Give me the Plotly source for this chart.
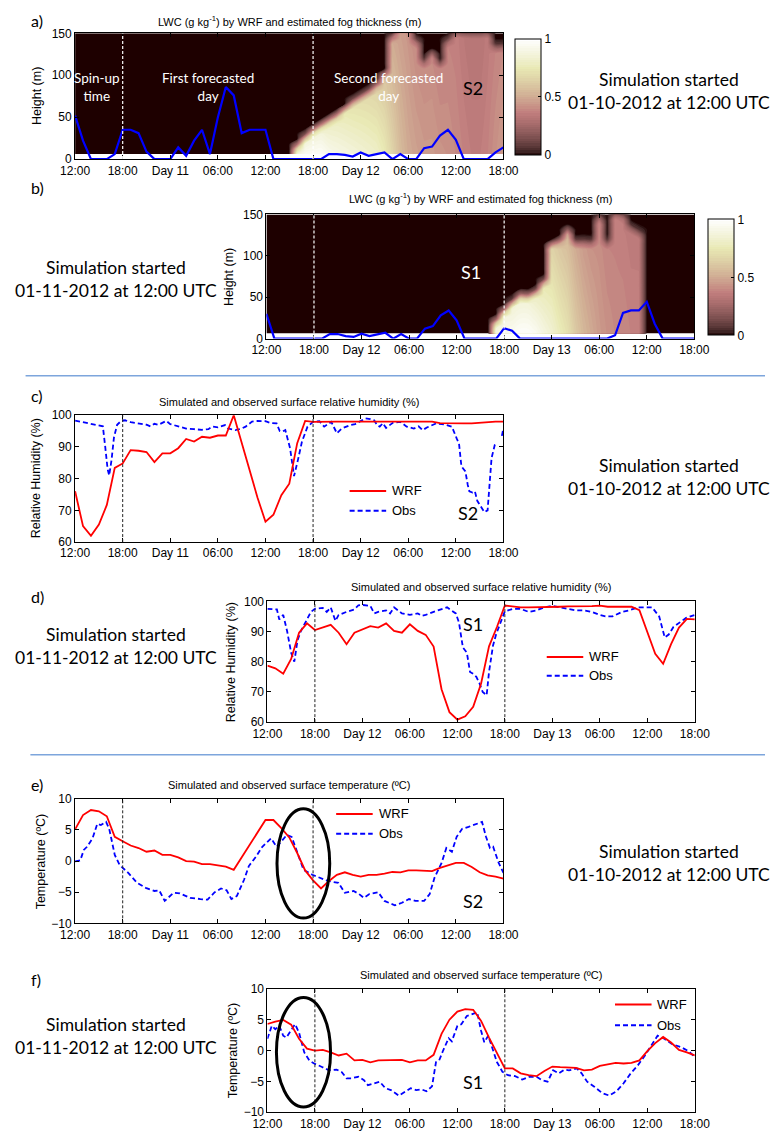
import numpy as np
import plotly.graph_objects as go

W, H = 780, 1141
def px(x): return x / W
def py(y): return 1 - y / H

# ---------------- data ----------------
hours = list(range(55))  # hours since 12:00 UTC of simulation start
tick_vals = [0, 6, 12, 18, 24, 30, 36, 42, 48, 54]
ticks_s2 = ["12:00", "18:00", "Day 11", "06:00", "12:00", "18:00", "Day 12", "06:00", "12:00", "18:00"]
ticks_s1 = ["12:00", "18:00", "Day 12", "06:00", "12:00", "18:00", "Day 13", "06:00", "12:00", "18:00"]

# estimated fog thickness (m), hourly
fog_obs_a = [52, 22, 0, 0, 0, 6, 35, 35, 31, 9, 0, 0, 0, 14, 4, 22, 35, 6, 50, 86, 76, 31, 35, 35, 35,
             0, 0, 0, 0, 0, 0, 0, 6, 6, 5, 3, 8, 4, 6, 8, 0, 6, 0, 0, 13, 15, 28, 35, 23, 0, 0, 0, 0, 8, 14]
fog_obs_b = [30, 0, 0, 0, 0, 0, 0, 0, 5.5, 5.5, 3, 2, 6, 3, 5, 7, 0, 5.5, 0, 0, 12, 15, 28, 34, 22,
             0, 0, 0, 0, 0, 12.5, 9.5, 0, 0, 0, 0, 0, 0, 0, 0, 0, 0, 0, 0, 4, 31, 34, 34, 44.5, 18, 0, 0, 0, 0, 0]

# WRF LWC field: fog-top height (m), LWC near surface and near fog top (g/kg), hourly
lwc_top_a = [0] * 28 + [10, 20, 28, 34, 40, 46, 54, 62, 68, 74, 82, 95, 140, 150, 150, 135, 110, 120, 108,
                        135, 144, 144, 144, 144, 144, 128, 128]
lwc_low_a = [0] * 28 + [0.95, 1.0, 1.0, 1.0, 0.95, 0.92, 0.9, 0.88, 0.86, 0.84, 0.82, 0.76, 0.66, 0.56, 0.5,
                        0.47, 0.45, 0.45, 0.43, 0.42, 0.4, 0.38, 0.36, 0.36, 0.38, 0.42, 0.45]
lwc_up_a = [0] * 28 + [0.8, 0.85, 0.85, 0.85, 0.8, 0.78, 0.75, 0.72, 0.7, 0.68, 0.65, 0.6, 0.5, 0.46, 0.43,
                       0.4, 0.4, 0.4, 0.38, 0.38, 0.37, 0.34, 0.32, 0.32, 0.35, 0.38, 0.4]
lwc_top_b = [0] * 29 + [15, 27, 37, 45, 45, 50, 62, 108, 112, 124, 110, 110, 110, 140, 110, 144, 142, 128, 122] + [0] * 7
lwc_low_b = [0] * 29 + [0.9, 0.95, 0.97, 1.0, 1.0, 0.97, 0.9, 0.85, 0.78, 0.72, 0.62, 0.55, 0.5, 0.45, 0.42,
                        0.4, 0.4, 0.38, 0.38] + [0] * 7
lwc_up_b = [0] * 29 + [0.85, 0.88, 0.85, 0.85, 0.85, 0.8, 0.75, 0.65, 0.6, 0.55, 0.5, 0.45, 0.42, 0.4, 0.38,
                       0.37, 0.36, 0.35, 0.35] + [0] * 7
model_heights = list(range(6, 151, 6))

# relative humidity (%)
rh_wrf_c = [76, 65, 62, 65.5, 71.7, 83.4, 84.8, 89, 88.8, 88.4, 85.2, 88, 88, 89.6, 92.5, 91.7, 93.2, 92.9,
            93.6, 93.6, 100, 91.2, 82.3, 74, 66.4, 68.6, 74.8, 78.4, 91.2, 98.2, 97.9, 98, 98, 98, 98, 98, 98,
            98, 98, 98, 98, 98, 98, 98, 98, 98, 97.5, 97.4, 97.4, 97.4, 97.4, 97.6, 97.9, 98, 98]
rh_obs_c_t = [0, 1, 2, 3, 3.5, 3.8, 4.1, 4.3, 4.6, 4.9, 5.3, 5.8, 6.3, 7, 8, 9, 9.5, 10, 10.5, 11, 11.5, 12, 13,
              14, 15, 16, 16.8, 17.3, 18, 18.9, 19.3, 20.2, 21, 21.5, 22.3, 23, 24, 24.7, 25.4, 25.8, 26.1, 26.5,
              27.1, 27.6, 28.1, 28.6, 29.3, 30, 30.8, 31.4, 32.3, 33, 33.6, 34.7, 35.3, 35.8, 36.6, 37.2, 37.7,
              38.1, 38.4, 38.8, 39.2, 40.1, 41, 41.8, 42.7, 43.3, 43.8, 44.4, 45.5, 46.6, 47.5, 48.1, 48.4, 48.7,
              49.2, 49.5, 49.7, 50.1, 50.4, 50.7, 51.2, 51.6, 52, 52.5, 52.9, 53.3, 53.5, 53.8, 54]
rh_obs_c = [98.3, 97.8, 97.2, 96.8, 96.5, 90, 83, 81, 86, 93, 97, 98.2, 98.4, 97.8, 97.3, 97, 96.5, 97.3, 97,
            97.6, 98.2, 97.2, 96.6, 95.8, 95.6, 95.4, 95.6, 96.4, 96.2, 96.9, 95.8, 95.3, 95.8, 96.4, 98, 98.2,
            98.1, 97.5, 97.4, 95, 94.8, 95.3, 89.6, 80.8, 86, 91.7, 96.4, 97.9, 98.1, 96.4, 97.9, 94.3, 95.8,
            96.9, 97.2, 97.9, 99, 98.8, 98.4, 96.8, 96.4, 97.5, 96, 97.7, 97.9, 96.4, 95.8, 96.5, 95.3, 96.2,
            97.4, 97.1, 96.4, 92.7, 91, 83.9, 82.3, 78, 76, 75.6, 76, 73, 70.9, 69.4, 70, 86.5, 90.6, 91.2,
            None, 93.5, 96]

rh_wrf_d = [78.7, 77.8, 76, 80.9, 89.6, 92.7, 90.5, 91.3, 92.2, 89.6, 85.8, 89.6, 90.7, 91.8, 91.3, 92.7, 90.2,
            89.6, 92.4, 90.2, 88.9, 85, 70.9, 63.3, 60.8, 61.9, 65.1, 72.8, 85.1, 91.5, 98.6, 98.3, 98, 98, 98,
            98, 98.1, 98.2, 98.3, 98.3, 98.4, 98.4, 98.6, 98.2, 98.2, 98.2, 98.2, 97.1, 89.7, 82.6, 79.3, 85.8,
            91.3, 94.2, 94]
rh_obs_d_t = [0, 0.7, 1.2, 1.5, 2, 2.5, 3, 3.4, 3.8, 4.2, 5, 5.5, 6, 7, 7.5, 8, 8.6, 9, 10, 11, 11.5, 12, 13,
              13.5, 14, 15, 15.5, 16, 16.5, 17, 18, 19, 19.5, 20, 21, 22, 22.7, 23.8, 24.2, 24.7, 25.2, 25.6, 26,
              26.4, 26.8, 27.2, 27.7, 28, 28.5, 28.9, 29.5, 30, 31, 32, 33, 34, 35, 36, 37, 38, 39, 40, 41, 42,
              42.7, 43.6, 44.8, 45.7, 46.8, 48.6, 49.5, 50.2, 50.7, 51.3, 52, 52.9, 54]
rh_obs_d = [97.5, 97.5, 97.3, 94, 95.5, 90, 83, 80, 87, 90, 94, 96.5, 97.5, 97.8, 96.5, 98, 93.5, 95.5, 96.5,
            97.3, 98.7, 98.8, 98.5, 96, 96.5, 97, 96, 98, 97, 96, 95.5, 96, 95.2, 95.5, 96.5, 97.5, 98, 96, 93,
            84.7, 83, 76.6, 76, 75, 72.8, 70, 68.9, 76.6, 85.3, 89.1, 93.5, 96.7, 97.5, 97.5, 96.5, 97, 98, 98.5,
            98, 97.5, 97, 97, 96.5, 95.5, 95, 95, 96.5, 97, 98, 98, 95, 88, 89, 91.5, 92.7, 94.5, 95.5]

# surface temperature (ºC)
t_wrf_e = [5.1, 7.4, 8.2, 8.0, 7.2, 3.9, 3.2, 2.5, 2.1, 1.5, 1.7, 1.0, 1.0, 0.6, 0.0, -0.1, -0.5, -0.5, -0.7,
           -0.9, -1.4, 0.6, 2.7, 4.8, 6.6, 6.6, 5.3, 3.8, 1.3, -1.5, -3.1, -4.4, -3.2, -2.2, -1.8, -2.2, -2.5,
           -2.2, -2.2, -2.0, -1.75, -1.8, -1.5, -1.5, -1.6, -1.6, -1.1, -0.7, -0.3, -0.3, -0.95, -1.8, -2.3,
           -2.5, -2.8]
t_obs_e_t = [0, 0.65, 1.1, 1.5, 2.2, 2.8, 3.25, 3.9, 4.3, 5, 5.6, 6.7, 7.8, 8.9, 10, 10.6, 11.3, 12.4, 13.2,
             14.5, 15.8, 16.7, 17.6, 18.4, 19.1, 19.7, 20.4, 21.3, 21.9, 22.8, 23.6, 24.7, 25.4, 26, 26.7, 27.3,
             28, 28.8, 29.9, 30.8, 31.9, 33.2, 34, 35.1, 35.8, 36.4, 37.1, 38.2, 39, 40.3, 41.2, 42.1, 42.9, 44,
             44.7, 45.3, 46.2, 46.8, 47.5, 48.1, 48.8, 49.6, 50.7, 51.3, 51.8, 52.3, 52.7, 53.4, 54]
t_obs_e = [-0.05, 0.1, 1.8, 2.3, 3.65, 6.0, 5.8, 6.3, 5.2, 1.0, -0.6, -1.9, -3.5, -4.3, -4.8, -4.7, -6.4, -5.1,
           -5.2, -5.9, -6.1, -6.2, -5.0, -4.4, -4.7, -6.1, -5.6, -3.0, -0.8, 0.7, 2.3, 3.65, 2.3, 3.1, 4.2, 3.9,
           1.3, -1.4, -2.2, -2.7, -3.2, -3.5, -5.1, -4.8, -5.3, -5.9, -5.3, -5.0, -6.4, -7.1, -6.7, -6.1, -6.4,
           -6.4, -5.3, -2.7, -0.3, 2.1, 1.5, 3.9, 5.2, 5.5, 6.0, 6.3, 3.9, 2.1, 2.3, -0.3, -1.9]

t_wrf_f = [4.3, 4.7, 4.95, 4.2, 1.9, 0.3, 0.0, 0.1, -0.3, -0.8, -0.5, -1.6, -1.5, -1.9, -1.6, -1.6, -1.5, -1.5,
           -1.9, -1.6, -1.6, -0.7, 2.7, 5.0, 6.3, 6.7, 6.6, 4.8, 2.1, -0.3, -2.9, -2.9, -3.7, -4.0, -4.15, -3.3,
           -2.6, -2.7, -2.8, -2.8, -3.2, -3.1, -2.5, -2.2, -2.0, -2.1, -2.0, -1.6, -0.1, 1.2, 2.2, 1.3, 0.1,
           -0.3, -0.8]
t_obs_f_t = [0, 0.55, 1, 1.5, 2, 2.4, 3, 3.5, 4, 4.65, 5.3, 5.9, 6.9, 7.8, 8.75, 9.4, 10, 10.6, 11.5, 12.2, 12.7,
             13.5, 14.2, 14.9, 15.6, 16.6, 17.4, 18.1, 18.8, 19.5, 20.1, 20.8, 21.3, 21.7, 22.2, 22.9, 23.3, 24,
             24.5, 25.2, 25.8, 26.5, 27, 27.4, 27.9, 28.5, 29, 29.7, 30.4, 31.3, 32.2, 33.1, 34, 34.7, 35.4, 36.1,
             36.8, 37.5, 38.1, 39.1, 39.7, 40.4, 41.3, 42.3, 43.2, 44.1, 45, 45.9, 46.8, 47.7, 48.6, 49.3, 50.2,
             51.1, 52.3, 53.2, 54]
t_obs_f = [1.9, 4.0, 3.45, 4.0, 2.4, 2.1, 3.3, 4.26, 2.9, -0.27, -1.6, -2.1, -2.66, -3.2, -3.1, -3.5, -4.5, -4.5,
           -4.25, -4.8, -5.6, -5.3, -5.05, -6.1, -6.4, -7.3, -6.6, -6.1, -6.4, -6.3, -6.6, -5.8, -1.86, -1.6, 0.0,
           2.0, 1.5, 4.0, 4.26, 5.6, 5.85, 6.2, 3.2, 1.33, 2.4, 0.0, -1.86, -3.45, -4.0, -4.15, -4.7, -4.25,
           -4.25, -4.8, -5.05, -3.2, -3.7, -3.1, -3.2, -2.9, -3.7, -5.05, -5.85, -6.9, -7.3, -6.6, -5.3, -3.7,
           -2.4, -0.8, 1.06, 2.4, 1.86, 1.06, 0.53, -0.1, -1.06]

# ---------------- styles ----------------
ARIAL = "Arial, Liberation Sans, sans-serif"
CAL = "Lato, Open Sans, sans-serif"
RED = "#ff0000"
BLUE = "#0000ff"

# MATLAB "pink" colormap
m = 64
n = int(3 / 8 * m)
gray = np.linspace(0, 1, m)
r_hot = np.concatenate([np.arange(1, n + 1) / n, np.ones(m - n)])
g_hot = np.concatenate([np.zeros(n), np.arange(1, n + 1) / n, np.ones(m - 2 * n)])
b_hot = np.concatenate([np.zeros(2 * n), np.arange(1, m - 2 * n + 1) / (m - 2 * n)])
pink = np.sqrt((2 * gray[:, None] + np.stack([r_hot, g_hot, b_hot], 1)) / 3)
pink_scale = [[i / (m - 1), "rgb(%d,%d,%d)" % tuple((pink[i] * 255).round())] for i in range(m)]

FADE = 12  # m over which LWC fades out above the fog top


def lwc_grid(top, low, up):
    z = []
    for h in model_heights:
        row = []
        for t in hours:
            if top[t] <= 0:
                row.append(0.0)
            elif h <= top[t]:
                row.append(low[t] + (up[t] - low[t]) * h / top[t])
            elif h <= top[t] + FADE:
                row.append(up[t] * (1 - (h - top[t]) / FADE))
            else:
                row.append(0.0)
        z.append(row)
    return z


fig = go.Figure()

panels = {
    1: dict(x=(62.5, 508), y=(26.7, 154)),
    2: dict(x=(261.5, 706.5), y=(210, 335.7)),
    3: dict(x=(62.5, 508), y=(413.3, 541.7)),
    4: dict(x=(262.5, 707), y=(601.7, 724)),
    5: dict(x=(62.5, 508), y=(801.7, 927.7)),
    6: dict(x=(262.5, 707), y=(994, 1119)),
}

# LWC fields (filled contours give the smooth, interpolated shading)
for k, (top, low, up, cbx, cby) in {1: (lwc_top_a, lwc_low_a, lwc_up_a, 520, 32),
                                    2: (lwc_top_b, lwc_low_b, lwc_up_b, 721, 215)}.items():
    fig.add_trace(go.Contour(
        x=hours, y=model_heights, z=lwc_grid(top, low, up), zmin=0, zmax=1,
        autocontour=False, contours=dict(start=0.0, end=1.0, size=0.02, coloring="fill"),
        line=dict(width=0), colorscale=pink_scale,
        xaxis="x%d" % k if k > 1 else "x", yaxis="y%d" % k if k > 1 else "y",
        hoverinfo="skip",
        colorbar=dict(x=px(cbx), xanchor="left", y=py(cby), yanchor="top", len=116, lenmode="pixels",
                      thickness=26, thicknessmode="pixels", xpad=0, ypad=0, outlinecolor="black",
                      outlinewidth=1, tickvals=[0, 0.5, 1], ticktext=["0", "0.5", "1"], ticks="inside",
                      ticklen=3, tickcolor="black", tickfont=dict(family=ARIAL, size=12, color="black"))))

fig.add_trace(go.Scatter(x=hours, y=fog_obs_a, mode="lines", line=dict(color=BLUE, width=2.2),
                         xaxis="x", yaxis="y", showlegend=False))
fig.add_trace(go.Scatter(x=hours, y=fog_obs_b, mode="lines", line=dict(color=BLUE, width=2.2),
                         xaxis="x2", yaxis="y2", showlegend=False))

series = [
    (3, hours, rh_wrf_c, rh_obs_c_t, rh_obs_c),
    (4, hours, rh_wrf_d, rh_obs_d_t, rh_obs_d),
    (5, hours, t_wrf_e, t_obs_e_t, t_obs_e),
    (6, hours, t_wrf_f, t_obs_f_t, t_obs_f),
]
for k, xw, yw, xo, yo in series:
    fig.add_trace(go.Scatter(x=xo, y=yo, mode="lines", line=dict(color=BLUE, width=1.8, dash="5px,3px"),
                             xaxis="x%d" % k, yaxis="y%d" % k, showlegend=False, name="Obs"))
    fig.add_trace(go.Scatter(x=xw, y=yw, mode="lines", line=dict(color=RED, width=1.8),
                             xaxis="x%d" % k, yaxis="y%d" % k, showlegend=False, name="WRF"))

yranges = {1: [0, 150], 2: [0, 150], 3: [60, 100], 4: [60, 100], 5: [-10, 10], 6: [-10, 10]}
ytv = {1: [0, 50, 100, 150], 2: [0, 50, 100, 150], 3: [60, 70, 80, 90, 100], 4: [60, 70, 80, 90, 100],
       5: [-10, -5, 0, 5, 10], 6: [-10, -5, 0, 5, 10]}
axis_common = dict(showline=True, linecolor="black", linewidth=1, mirror="ticks", ticks="inside", ticklen=4,
                   tickcolor="black", showgrid=False, zeroline=False,
                   tickfont=dict(family=ARIAL, size=12, color="black"))
layout = {}
for k, p in panels.items():
    xs = "xaxis" if k == 1 else "xaxis%d" % k
    ys = "yaxis" if k == 1 else "yaxis%d" % k
    layout[xs] = dict(domain=[px(p["x"][0]), px(p["x"][1])], range=[0, 54], tickvals=tick_vals,
                      ticktext=ticks_s2 if k in (1, 3, 5) else ticks_s1,
                      anchor="y" if k == 1 else "y%d" % k, **axis_common)
    layout[ys] = dict(domain=[py(p["y"][1]), py(p["y"][0])], range=yranges[k], tickvals=ytv[k],
                      anchor="x" if k == 1 else "x%d" % k, **axis_common)

shapes = []
annotations = []

# dashed day separators
for k in panels:
    xr = "x" if k == 1 else "x%d" % k
    yr = ("y" if k == 1 else "y%d" % k) + " domain"
    for xv in (6, 30):
        if k <= 2:
            ln = dict(color="white", width=1.2, dash="3px,2px")
        else:
            ln = dict(color="#222222", width=1, dash="3px,2px")
        shapes.append(dict(type="line", xref=xr, yref=yr, x0=xv, x1=xv, y0=0, y1=1, line=ln))

# ellipses
shapes.append(dict(type="circle", xref="x5", yref="y5", x0=25.45, x1=32.1, y0=-9.15, y1=8.4,
                   line=dict(color="black", width=3)))
shapes.append(dict(type="circle", xref="x6", yref="y6", x0=1.14, x1=7.98, y0=-9.15, y1=8.6,
                   line=dict(color="black", width=3)))

# blue separators
shapes.append(dict(type="line", xref="paper", yref="paper", x0=px(11), x1=1, y0=py(373.3), y1=py(373.3),
                   line=dict(color="#7da5dc", width=1.5)))
shapes.append(dict(type="line", xref="paper", yref="paper", x0=px(16), x1=1, y0=py(757), y1=py(757),
                   line=dict(color="#7da5dc", width=1.5)))


def txt(x, y, s, size, color="black", family=CAL, xanchor="center", angle=0):
    annotations.append(dict(x=px(x), y=py(y), xref="paper", yref="paper", text=s, showarrow=False,
                            xanchor=xanchor, yanchor="middle", textangle=angle, align="center",
                            font=dict(family=family, size=size, color=color)))


# legends (sample lines + labels)
for (x0, yw, yo) in [(348, 490, 510), (553, 658, 677), (334, 817, 837), (624, 1010, 1031)]:
    shapes.append(dict(type="line", xref="paper", yref="paper", x0=px(x0), x1=px(x0 + 38), y0=py(yw),
                       y1=py(yw), line=dict(color=RED, width=2)))
    shapes.append(dict(type="line", xref="paper", yref="paper", x0=px(x0), x1=px(x0 + 38), y0=py(yo),
                       y1=py(yo), line=dict(color=BLUE, width=2, dash="5px,3px")))
    txt(x0 + 42, yw, "WRF", 13, family=ARIAL, xanchor="left")
    txt(x0 + 42, yo, "Obs", 13, family=ARIAL, xanchor="left")

# titles
lwc_title = "LWC (g kg<sup>-1</sup>) by WRF and estimated fog thickness (m)"
txt(285, 14, lwc_title, 11, family=ARIAL)
txt(484, 193, lwc_title, 11, family=ARIAL)
txt(285, 400, "Simulated and observed surface relative humidity (%)", 11, family=ARIAL)
txt(485, 587, "Simulated and observed surface relative humidity (%)", 11, family=ARIAL)
txt(285, 788, "Simulated and observed surface temperature (ºC)", 11, family=ARIAL)
txt(485, 980, "Simulated and observed surface temperature (ºC)", 11, family=ARIAL)

# y-axis titles
txt(23, 90, "Height (m)", 12.5, family=ARIAL, angle=-90)
txt(222, 273, "Height (m)", 12.5, family=ARIAL, angle=-90)
txt(22, 477, "Relative Humidity (%)", 12.5, family=ARIAL, angle=-90)
txt(224, 663, "Relative Humidity (%)", 12.5, family=ARIAL, angle=-90)
txt(27, 865, "Temperature (ºC)", 12.5, family=ARIAL, angle=-90)
txt(227, 1056, "Temperature (ºC)", 12.5, family=ARIAL, angle=-90)

# panel letters
for lab, yv in [("a)", 14), ("b)", 183), ("c)", 393), ("d)", 597), ("e)", 787), ("f)", 985)]:
    txt(15, yv, lab, 16, xanchor="left")

# simulation start notes
s2 = "Simulation started<br>01-10-2012 at 12:00 UTC"
s1 = "Simulation started<br>01-11-2012 at 12:00 UTC"
txt(680.5, 85, s2, 17.5)
txt(680.5, 476, s2, 17.5)
txt(680.5, 867, s2, 17.5)
txt(105, 275, s1, 17.5)
txt(105, 647, s1, 17.5)
txt(105, 1042, s1, 17.5)

# inside texts
txt(85, 81, "Spin-up<br>time", 13.5, color="white")
txt(201, 81, "First forecasted<br>day", 13.5, color="white")
txt(388, 81, "Second forecasted<br>day", 13.5, color="white")
txt(476, 82, "S2", 18)
txt(474, 268, "S1", 18, color="white")
txt(471, 512, "S2", 18)
txt(476, 625, "S1", 18)
txt(476, 905, "S2", 18)
txt(476, 1088, "S1", 18)

fig.update_layout(width=W, height=H, margin=dict(l=0, r=0, t=0, b=0), paper_bgcolor="white",
                  plot_bgcolor="white", showlegend=False, shapes=shapes, annotations=annotations, **layout)
fig.write_html("out.html")
